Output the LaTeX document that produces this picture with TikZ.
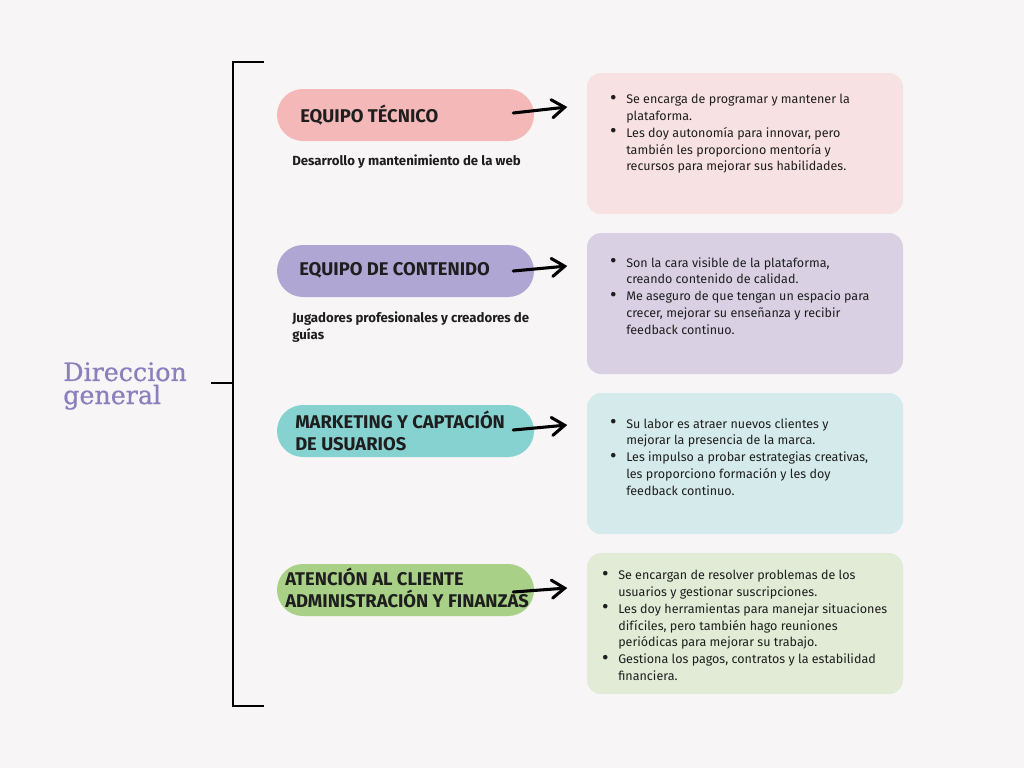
\documentclass[tikz,border=0pt]{standalone}
\usepackage{fontspec}
\setmainfont{Fira Sans}
\newfontfamily\titlefont[FakeBold=0.7]{DejaVu Serif}
\usetikzlibrary{arrows.meta,calc}
\definecolor{bgc}{HTML}{F7F5F6}
\definecolor{pinkp}{HTML}{F5B8B8}
\definecolor{pinkb}{HTML}{F7E1E3}
\definecolor{purpp}{HTML}{B0A6D4}
\definecolor{purpb}{HTML}{D9D1E3}
\definecolor{tealp}{HTML}{86D2D0}
\definecolor{tealb}{HTML}{D5EAEA}
\definecolor{greenp}{HTML}{A8D086}
\definecolor{greenb}{HTML}{E1EBD5}
\definecolor{titc}{HTML}{8A80BE}
\definecolor{ink}{HTML}{1E1E1E}
\newcommand{\bul}{\makebox[11.25pt][l]{\hspace{-0.8pt}\raisebox{-0.4pt}{\scalebox{1.6}{\textbullet}}}}
\newcommand{\ind}{\hspace{11.25pt}}
\begin{document}
\begin{tikzpicture}[x=0.75pt,y=-0.75pt,
  pill/.style={rounded corners=19.5pt,minimum width=192.75pt,minimum height=39pt,inner sep=0pt},
  infobox/.style={rounded corners=10.5pt,minimum width=237pt,minimum height=105.75pt,inner sep=0pt},
  pilltext/.style={anchor=west,inner sep=0pt,align=left,text=ink,font={\fontsize{13.8}{16.5}\selectfont\bfseries}},
  subtext/.style={anchor=west,inner sep=0pt,align=left,text=ink,font={\fontsize{9.9}{12.75}\selectfont\bfseries}},
  bodytext/.style={anchor=north west,inner sep=0pt,align=left,text=ink,font={\fontsize{9.4}{12.6}\selectfont}},
  arr/.style={line width=2.3pt,line cap=round,-{Straight Barb[length=9.5pt,width=13.5pt,line width=2.3pt,line cap=round]}},
  brk/.style={line width=1.5pt,draw=black}]
\useasboundingbox[fill=bgc] (0,0) rectangle (1024,768);

% title
\node[anchor=west,inner sep=0pt,align=left,text=titc,font={\titlefont\fontsize{19}{17.3}\selectfont}] (title) at (63,386) {Direccion\\general};

% bracket
\coordinate (bt) at (233,62);
\coordinate (bb) at (233,706);
\coordinate (btr) at (264,62);
\coordinate (bbr) at (264,706);
\coordinate (bm) at (233,383);
\coordinate (bml) at (211,383);
\draw[brk] (btr) -- (bt) -- (bb) -- (bbr);
\draw[brk] (bml) -- (bm);

% pills
\node[pill,fill=pinkp] (p1) at (405.5,115) {};
\node[pill,fill=purpp] (p2) at (405.5,271) {};
\node[pill,fill=tealp] (p3) at (405.5,431) {};
\node[pill,fill=greenp] (p4) at (405.5,590) {};

\node[pilltext] (t1) at (300,115) {EQUIPO TÉCNICO};
\node[pilltext] (t2) at (299,270) {EQUIPO DE CONTENIDO};
\node[pilltext] (t3) at (295,431) {MARKETING Y CAPTACIÓN\\DE USUARIOS};
\node[pilltext] (t4) at (285,588) {ATENCIÓN AL CLIENTE\\ADMINISTRACIÓN Y FINANZAS};

\node[subtext] (s1) at (292,162) {Desarrollo y mantenimiento de la web};
\node[subtext] (s2) at (292,327.5) {Jugadores profesionales y creadores de\\guías};

% boxes
\node[infobox,fill=pinkb] (b1) at (745,143.5) {};
\node[infobox,fill=purpb] (b2) at (745,303.5) {};
\node[infobox,fill=tealb] (b3) at (745,463.5) {};
\node[infobox,fill=greenb] (b4) at (745,623.5) {};

\node[bodytext] (x1) at (611,94) {\bul Se encarga de programar y mantener la\\
\ind plataforma.\\
\bul Les doy autonomía para innovar, pero\\
\ind también les proporciono mentoría y\\
\ind recursos para mejorar sus habilidades.};

\node[bodytext] (x2) at (611,257) {\bul Son la cara visible de la plataforma,\\
\ind creando contenido de calidad.\\
\bul Me aseguro de que tengan un espacio para\\
\ind crecer, mejorar su enseñanza y recibir\\
\ind feedback continuo.};

\node[bodytext] (x3) at (611,418) {\bul Su labor es atraer nuevos clientes y\\
\ind mejorar la presencia de la marca.\\
\bul Les impulso a probar estrategias creativas,\\
\ind les proporciono formación y les doy\\
\ind feedback continuo.};

\node[bodytext] (x4) at (603,570) {\bul Se encargan de resolver problemas de los\\
\ind usuarios y gestionar suscripciones.\\
\bul Les doy herramientas para manejar situaciones\\
\ind difíciles, pero también hago reuniones\\
\ind periódicas para mejorar su trabajo.\\
\bul Gestiona los pagos, contratos y la estabilidad\\
\ind financiera.};

% arrows
\draw[arr] ($(p1.east)+(-21,-2)$) -- ($(p1.east)+(33,-8)$);
\draw[arr] ($(p2.east)+(-21,0)$) -- ($(p2.east)+(33,-5)$);
\draw[arr] ($(p3.east)+(-21,-1)$) -- ($(p3.east)+(33,-6)$);
\draw[arr] ($(p4.east)+(-21,2)$) -- ($(p4.east)+(33,-2)$);
\end{tikzpicture}
\end{document}
